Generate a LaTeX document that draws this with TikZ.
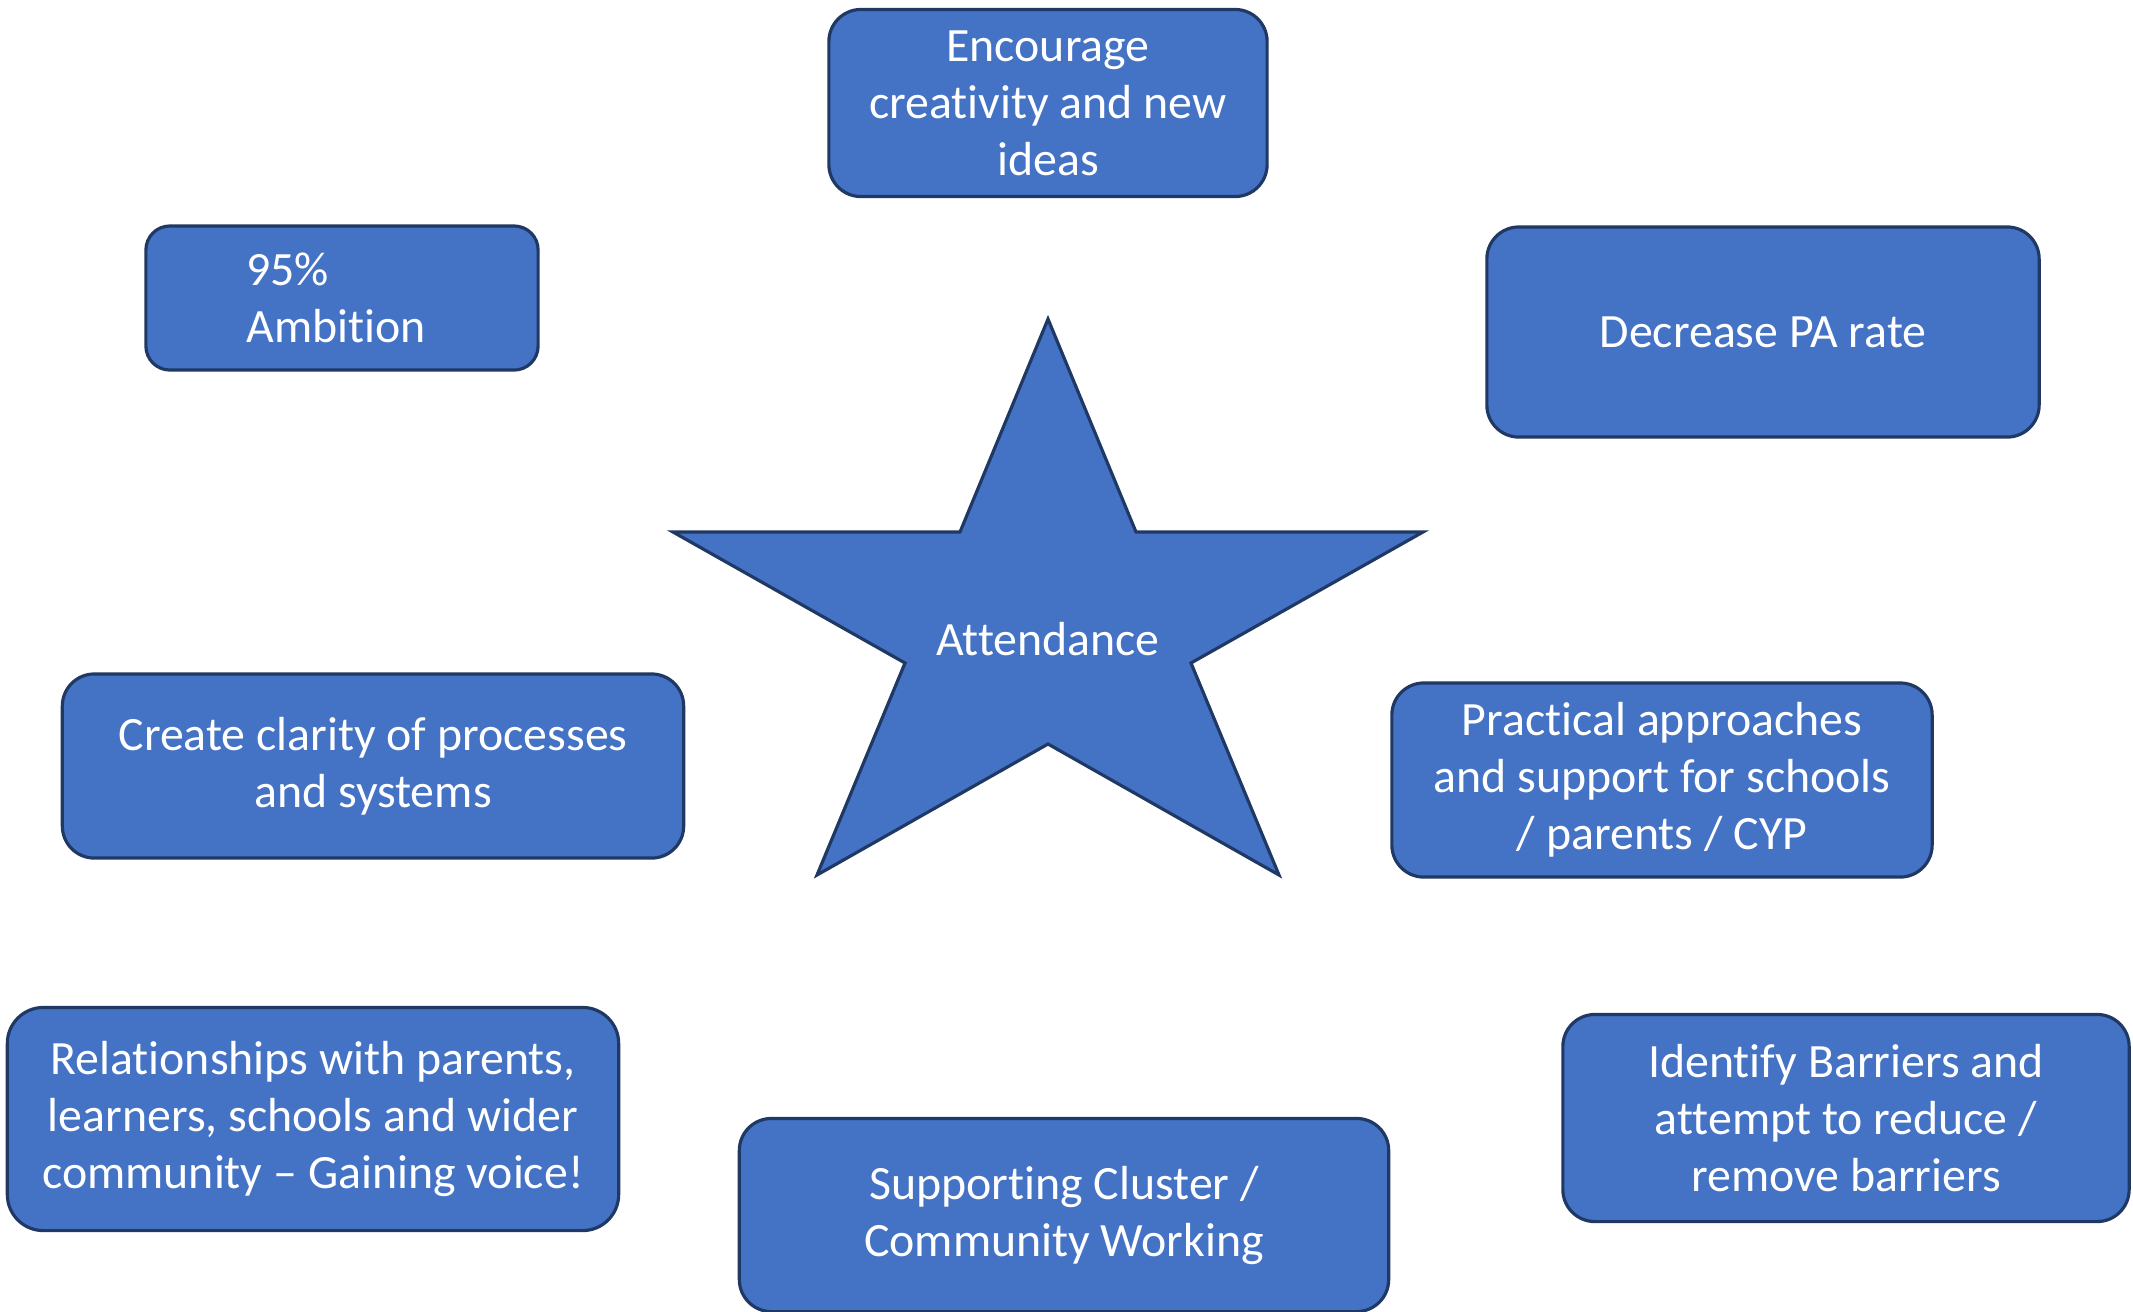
\documentclass[tikz,border=0pt]{standalone}
\usepackage{fontspec}
\setmainfont{Carlito}[Ligatures={NoCommon}]
\usepackage{tikz}
\definecolor{boxblue}{HTML}{4472C4}
\definecolor{boxedge}{HTML}{1F3864}

\begin{document}
\begin{tikzpicture}[x=0.01cm, y=-0.01cm,
        goal/.style={draw=boxedge, fill=boxblue, line width=0.9pt, rounded corners=0.32cm,
            text=white, align=center, inner sep=0pt, outer sep=0pt,
            font=\fontsize{13.6}{16.2}\selectfont}]
        \useasboundingbox (0, 0) rectangle (2133, 1311);
        % the star in the middle
        \draw[boxedge, fill=boxblue, line width=0.9pt, line join=miter]
            (1048, 319) -- (1136, 532) -- (1423, 532) -- (1191, 663) -- (1279, 875)
            -- (1048, 744) -- (817, 875) -- (905, 663) -- (673, 532) -- (960, 532) -- cycle;
        \node[text=white, font=\fontsize{13.6}{16.2}\selectfont] (att) at (1048, 639) {Attendance};
        % the goals round it
        \node[goal, minimum width=4.38cm, minimum height=1.87cm] (ideas) at (1048, 103)
            {Encourage\\creativity and new\\ideas};
        \node[goal, align=left, rounded corners=0.24cm, minimum width=3.92cm, minimum height=1.44cm] (ambition) at (342, 298)
            {95\%\\Ambition\hspace*{0.12cm}};
        \node[goal, minimum width=5.52cm, minimum height=2.10cm] (parate) at (1763, 332)
            {Decrease PA rate};
        \node[goal, minimum width=6.21cm, minimum height=1.84cm] (clarity) at (373, 766)
            {Create clarity of processes\\and systems};
        \node[goal, minimum width=5.40cm, minimum height=1.94cm] (practical) at (1662, 780)
            {Practical approaches\\and support for schools\\/ parents / CYP};
        \node[goal, rounded corners=0.36cm, minimum width=6.11cm, minimum height=2.23cm] (voice) at (313, 1119)
            {Relationships with parents,\\learners, schools and wider\\community -- Gaining voice!};
        \node[goal, minimum width=6.49cm, minimum height=1.93cm] (cluster) at (1064, 1215)
            {Supporting Cluster /\\Community Working};
        \node[goal, minimum width=5.66cm, minimum height=2.07cm] (barriers) at (1846, 1118)
            {Identify Barriers and\\attempt to reduce /\\remove barriers};
    \end{tikzpicture}
\end{document}
